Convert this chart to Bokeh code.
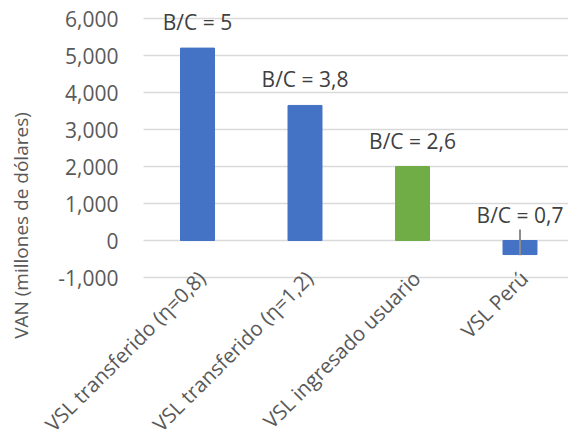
import math
from bokeh.plotting import figure
from bokeh.models import ColumnDataSource, Range1d, Label
from bokeh.core.properties import value
from bokeh.embed import file_html
from bokeh.resources import INLINE

# ---- data ----
categories = ["VSL transferido (η=0,8)", "VSL transferido (η=1,2)",
              "VSL ingresado usuario", "VSL Perú"]
van_values = [5200, 3650, 2000, -380]
bc_labels = ["B/C = 5", "B/C = 3,8", "B/C = 2,6", "B/C = 0,7"]
bar_colors = ["#4472C4", "#4472C4", "#70AD47", "#4472C4"]
y_ticks = [-1000, 0, 1000, 2000, 3000, 4000, 5000, 6000]
y_tick_labels = ["-1,000", "0", "1,000", "2,000", "3,000", "4,000",
                 "5,000", "6,000"]
leader_cat = [3]
leader_top = [300]
leader_bottom = [-400]

FONT = "Open Sans"
W, H = 568, 437
# layout (pixels): plot area left edge, first category centre, category pitch,
# pixel row of value 0 and pixels per 1000
PLOT_LEFT, CAT0, PITCH = 143.0, 197.0, 107.5
ZERO_ROW, PX_PER_K = 240.0, 37.0

x_start = -CAT0 / PITCH
x_end = (W - CAT0) / PITCH
x_band_start = (PLOT_LEFT - CAT0) / PITCH
x_band_end = x_end
y_end = ZERO_ROW / PX_PER_K * 1000
y_start = -(H - ZERO_ROW) / PX_PER_K * 1000

xs = list(range(len(categories)))
src = ColumnDataSource(dict(
    x=xs, top=van_values, color=bar_colors, label=bc_labels,
    ly=[max(v, 0) for v in van_values],
))
tick_src = ColumnDataSource(dict(
    y=y_ticks, lab=y_tick_labels,
    x0=[x_band_start] * len(y_ticks), x1=[x_band_end] * len(y_ticks),
))
cat_src = ColumnDataSource(dict(x=xs, y=[min(y_ticks)] * len(xs),
                                lab=categories))

p = figure(width=W, height=H, output_backend="svg", toolbar_location=None,
           x_range=Range1d(x_start, x_end), y_range=Range1d(y_start, y_end),
           min_border=0)
p.outline_line_color = None
p.background_fill_color = "white"
p.border_fill_color = "white"
p.xaxis.visible = False
p.yaxis.visible = False
p.grid.visible = False

# gridlines
p.segment(x0="x0", x1="x1", y0="y", y1="y", source=tick_src,
          line_color="#D9D9D9", line_width=1.5)
# y tick labels
p.text(x="x0", y="y", text="lab", source=tick_src, x_offset=-25,
       text_align="right", text_baseline="middle",
       text_font=value(FONT), text_font_size="21px", text_color="#595959")

# bars
p.vbar(x="x", top="top", bottom=0, width=0.316, color="color", source=src)
p.segment(x0=leader_cat, x1=leader_cat, y0=leader_top, y1=leader_bottom,
          line_color="#8C8C8C", line_width=2)
p.text(x="x", y="ly", text="label", source=src, y_offset=-26,
       text_align="center", text_baseline="middle",
       text_font=value(FONT), text_font_size="21px", text_color="#404040")

# category labels
p.text(x="x", y="y", text="lab", source=cat_src, angle=math.pi / 4,
       x_offset=-6, y_offset=-13, text_align="right", text_baseline="top",
       text_font=value(FONT), text_font_size="20.5px", text_color="#595959")

# y axis title
p.add_layout(Label(x=20, y=H - 225, x_units="screen", y_units="screen",
                   text="VAN (millones de dólares)", angle=math.pi / 2,
                   text_align="center", text_baseline="middle",
                   text_font=FONT, text_font_size="19px",
                   text_color="#595959"))

open("out.html", "w").write(file_html(p, INLINE))
